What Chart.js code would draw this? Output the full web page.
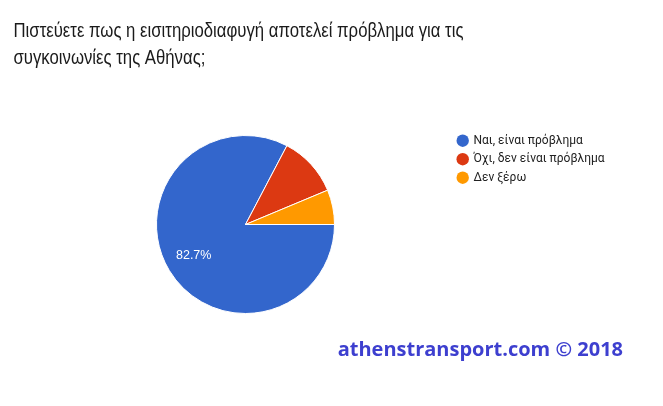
<!DOCTYPE html>
<html>
<head>
<meta charset="utf-8">
<script src="https://cdn.jsdelivr.net/npm/chart.js@4"></script>
<style>
  html, body { margin: 0; padding: 0; background: #fff; }
  #wrap { width: 663px; height: 406px; }
</style>
</head>
<body>
<div id="wrap"><canvas id="myChart"></canvas></div>
<script>
const labels = ['Ναι, είναι πρόβλημα', 'Όχι, δεν είναι πρόβλημα', 'Δεν ξέρω'];
const values = [82.7, 11.0, 6.3];
const colors = ['#3366cc', '#dc3912', '#ff9900'];
const titleLines = ['Πιστεύετε πως η εισιτηριοδιαφυγή αποτελεί πρόβλημα για τις', 'συγκοινωνίες της Αθήνας;'];
const watermark = 'athenstransport.com © 2018';

// percentage label inside big slices, like google charts does
const sliceText = {
  id: 'sliceText',
  afterDatasetsDraw(chart) {
    const {ctx} = chart;
    const total = values.reduce((a, b) => a + b, 0);
    chart.getDatasetMeta(0).data.forEach((arc, i) => {
      const share = values[i] / total;
      if (share < 0.15) return;
      const {x, y, startAngle, endAngle, outerRadius} = arc.getProps(['x', 'y', 'startAngle', 'endAngle', 'outerRadius'], true);
      const mid = (startAngle + endAngle) / 2;
      const r = outerRadius * 0.68;
      ctx.save();
      ctx.fillStyle = '#fff';
      ctx.font = '12.5px Arial, "Liberation Sans", sans-serif';
      ctx.textAlign = 'center';
      ctx.textBaseline = 'middle';
      ctx.fillText((share * 100).toFixed(1) + '%', x + Math.cos(mid) * r, y + Math.sin(mid) * r);
      ctx.restore();
    });
  }
};

// title (narrow face, so squeeze it), legend on the right and the site watermark
const extras = {
  id: 'extras',
  afterDraw(chart) {
    const {ctx} = chart;
    ctx.save();
    ctx.font = '20px "Liberation Sans", Arial, sans-serif';
    ctx.fillStyle = '#1a1a1a';
    ctx.textBaseline = 'alphabetic';
    const squeeze = 450 / ctx.measureText(titleLines[0]).width;
    titleLines.forEach((line, i) => {
      ctx.save();
      ctx.translate(13.5, 36.7 + i * 27);
      ctx.scale(squeeze, 1);
      ctx.fillText(line, 0, 0);
      ctx.restore();
    });

    ctx.font = '12px Roboto, Arial, sans-serif';
    ctx.textBaseline = 'middle';
    labels.forEach((label, i) => {
      const cy = 140.7 + i * 18.5;
      ctx.fillStyle = colors[i];
      ctx.beginPath();
      ctx.arc(462.7, cy, 6.2, 0, Math.PI * 2);
      ctx.fill();
      ctx.fillStyle = '#222';
      ctx.fillText(label, 473.5, cy);
    });

    ctx.font = 'bold 20px "Open Sans", "Liberation Sans", sans-serif';
    ctx.fillStyle = '#3d3fcf';
    ctx.textAlign = 'right';
    ctx.textBaseline = 'alphabetic';
    ctx.fillText(watermark, 623, 356);
    ctx.restore();
  }
};

new Chart(document.getElementById('myChart'), {
  type: 'pie',
  data: {
    labels,
    datasets: [{
      data: values,
      backgroundColor: colors,
      borderColor: '#fff',
      borderWidth: 1
    }]
  },
  options: {
    responsive: true,
    maintainAspectRatio: false,
    animation: false,
    rotation: 90,
    layout: {
      padding: {left: 13, right: 185, top: 135, bottom: 92}
    },
    plugins: {
      legend: {display: false},
      tooltip: {enabled: false},
      title: {display: false}
    }
  },
  plugins: [sliceText, extras]
});
</script>
</body>
</html>
